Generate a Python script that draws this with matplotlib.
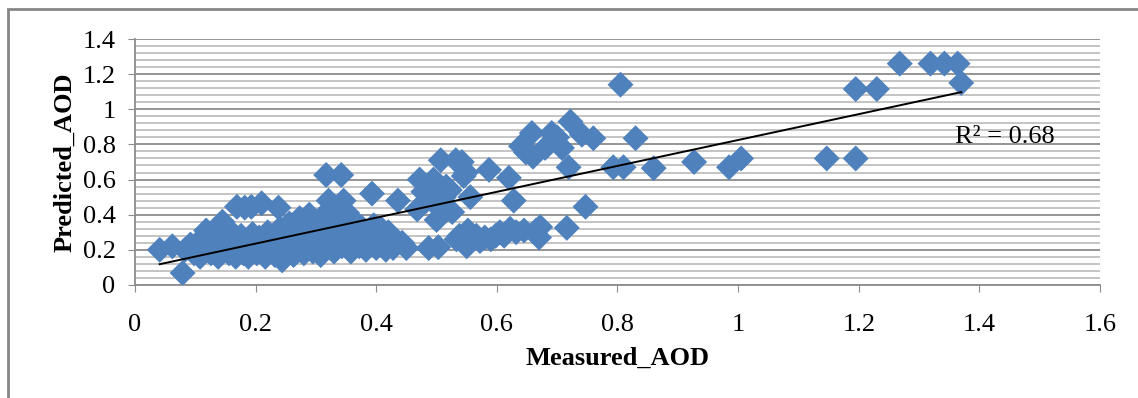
import matplotlib.pyplot as plt
import numpy as np
from matplotlib.patches import Rectangle
from matplotlib.ticker import MultipleLocator, FuncFormatter

# measured vs predicted AOD
measured = [0.041, 0.062, 0.079, 0.083, 0.092, 0.098, 0.104, 0.108, 0.115, 0.118,
            0.122, 0.126, 0.131, 0.134, 0.138, 0.142, 0.145, 0.148, 0.152, 0.156,
            0.160, 0.163, 0.167, 0.169, 0.172, 0.176, 0.180, 0.182, 0.185, 0.188,
            0.193, 0.195, 0.198, 0.202, 0.206, 0.210, 0.212, 0.216, 0.220, 0.224,
            0.228, 0.232, 0.236, 0.238, 0.240, 0.244, 0.248, 0.252, 0.256, 0.259,
            0.263, 0.266, 0.270, 0.273, 0.276, 0.280, 0.283, 0.286, 0.289, 0.292,
            0.295, 0.298, 0.301, 0.305, 0.308, 0.311, 0.314, 0.317, 0.318, 0.321,
            0.324, 0.327, 0.330, 0.333, 0.336, 0.340, 0.342, 0.343, 0.346, 0.349,
            0.352, 0.355, 0.358, 0.361, 0.364, 0.368, 0.372, 0.375, 0.379, 0.383,
            0.387, 0.391, 0.393, 0.396, 0.400, 0.404, 0.408, 0.412, 0.416, 0.420,
            0.428, 0.436, 0.443, 0.450,
            0.468, 0.472, 0.478, 0.483, 0.487, 0.490, 0.495, 0.498, 0.500, 0.503,
            0.506, 0.507, 0.512, 0.516, 0.522, 0.526, 0.532, 0.533, 0.538, 0.542,
            0.545, 0.549, 0.550, 0.552, 0.556, 0.560, 0.566, 0.572, 0.580, 0.587,
            0.590, 0.598, 0.605, 0.612, 0.620, 0.622, 0.628, 0.632, 0.640, 0.645,
            0.648, 0.658, 0.660, 0.665, 0.670, 0.672, 0.680, 0.691, 0.700, 0.708,
            0.716, 0.719, 0.722, 0.741, 0.747, 0.760,
            0.793, 0.810, 0.805, 0.830, 0.860, 0.927, 0.985, 1.005, 1.147, 1.195,
            1.195, 1.230, 1.268, 1.319, 1.342, 1.364, 1.370]
predicted = [0.20, 0.22, 0.068, 0.20, 0.23, 0.18, 0.24, 0.16, 0.21, 0.31,
             0.26, 0.18, 0.28, 0.23, 0.16, 0.33, 0.36, 0.21, 0.27, 0.18,
             0.30, 0.24, 0.16, 0.445, 0.21, 0.28, 0.18, 0.44, 0.25, 0.16,
             0.445, 0.29, 0.21, 0.18, 0.27, 0.465, 0.23, 0.16, 0.30, 0.20,
             0.26, 0.17, 0.23, 0.44, 0.32, 0.14, 0.28, 0.20, 0.35, 0.24,
             0.17, 0.30, 0.21, 0.38, 0.26, 0.18, 0.33, 0.23, 0.40, 0.28,
             0.19, 0.36, 0.24, 0.31, 0.17, 0.39, 0.27, 0.626, 0.21, 0.48,
             0.34, 0.25, 0.19, 0.44, 0.30, 0.37, 0.626, 0.22, 0.48, 0.27,
             0.41, 0.33, 0.19, 0.24, 0.36, 0.29, 0.22, 0.33, 0.26, 0.20,
             0.30, 0.24, 0.52, 0.34, 0.21, 0.28, 0.32, 0.25, 0.20, 0.30,
             0.21, 0.48, 0.24, 0.21,
             0.43, 0.60, 0.53, 0.48, 0.21, 0.57, 0.60, 0.46, 0.37, 0.215,
             0.53, 0.71, 0.50, 0.56, 0.54, 0.415, 0.71, 0.26, 0.28, 0.70,
             0.62, 0.64, 0.22, 0.31, 0.50, 0.26, 0.28, 0.25, 0.27, 0.655,
             0.26, 0.28, 0.30, 0.28, 0.61, 0.32, 0.48, 0.30, 0.79, 0.31,
             0.755, 0.865, 0.73, 0.31, 0.27, 0.33, 0.78, 0.865, 0.84, 0.78,
             0.325, 0.67, 0.93, 0.855, 0.445, 0.835,
             0.67, 0.67, 1.14, 0.835, 0.665, 0.70, 0.67, 0.72, 0.72, 0.72,
             1.115, 1.115, 1.26, 1.26, 1.26, 1.26, 1.15]

# linear trendline as shown on the chart
trend_slope = 0.737
trend_intercept = 0.088
r2_text = 'R² = 0.68'

blue = '#4F81BD'
grid_major = '#8c8c8c'
grid_minor = '#bfbfbf'

plt.rcParams['font.family'] = ['Liberation Serif', 'DejaVu Serif']

fig = plt.figure(figsize=(11.38, 3.98), dpi=100)
ax = fig.add_axes([0.1186, 0.284, 0.848, 0.618])

# outer chart frame (left and top only visible)
fig.patches.append(Rectangle((0.007, -0.1), 1.2, 1.077, transform=fig.transFigure,
                             fill=False, edgecolor='#868686', linewidth=2))

ax.scatter(measured, predicted, marker='D', s=175, color=blue, edgecolors='none', zorder=3)

xs = np.array([min(measured), max(measured)])
ax.plot(xs, trend_slope * xs + trend_intercept, color='black', linewidth=1.4, zorder=4)
ax.text(1.36, 0.84, r2_text, fontsize=19, va='center', ha='left', zorder=5)

ax.set_xlim(0, 1.6)
ax.set_ylim(0, 1.4)
ax.xaxis.set_major_locator(MultipleLocator(0.2))
ax.yaxis.set_major_locator(MultipleLocator(0.2))
ax.yaxis.set_minor_locator(MultipleLocator(0.04))
fmt = FuncFormatter(lambda v, p: '%g' % round(v, 2))
ax.xaxis.set_major_formatter(fmt)
ax.yaxis.set_major_formatter(fmt)

ax.grid(axis='y', which='major', color=grid_major, linewidth=1.3, zorder=0)
ax.grid(axis='y', which='minor', color=grid_minor, linewidth=1.3, zorder=0)
ax.set_axisbelow(True)

for side in ['top', 'right']:
    ax.spines[side].set_visible(False)
for side in ['left', 'bottom']:
    ax.spines[side].set_color(grid_major)
    ax.spines[side].set_linewidth(1.3)

ax.tick_params(axis='both', which='major', direction='out', length=5, color=grid_major,
               labelsize=19)
ax.tick_params(axis='x', which='major', pad=16)
ax.tick_params(axis='y', which='major', pad=9)
ax.tick_params(axis='y', which='minor', length=0)

ax.set_xlabel('Measured_AOD', fontsize=19, fontweight='bold', labelpad=8)
ax.set_ylabel('Predicted_AOD', fontsize=19, fontweight='bold', labelpad=4)

fig.savefig('out.png', dpi=100)
